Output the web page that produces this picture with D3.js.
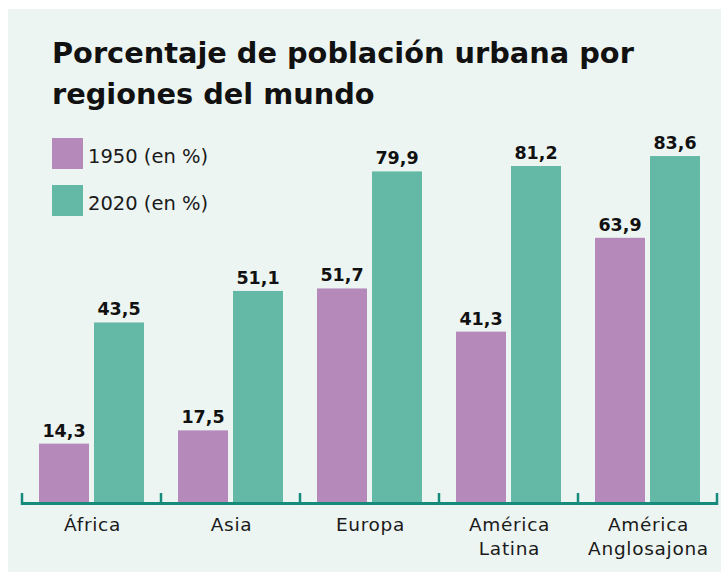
<!DOCTYPE html>
<html>
<head>
<meta charset="utf-8">
<script src="https://cdn.jsdelivr.net/npm/d3@7"></script>
<style>
  html, body { margin: 0; padding: 0; background: #ffffff; }
  svg { display: block; }
</style>
</head>
<body>
<div id="chart"></div>
<script>
// Urban population share by world region, 1950 vs 2020
const categories = [["África"], ["Asia"], ["Europa"], ["América", "Latina"], ["América", "Anglosajona"]];
const seriesNames = ["1950 (en %)", "2020 (en %)"];
const values1950 = [14.3, 17.5, 51.7, 41.3, 63.9];
const values2020 = [43.5, 51.1, 79.9, 81.2, 83.6];
const titleLines = ["Porcentaje de población urbana por", "regiones del mundo"];

const W = 721, H = 573;
const colors = ["#b689bb", "#64b8a6"];
const axisColor = "#168a7b";
const fontFamily = "'DejaVu Sans', sans-serif";

const svg = d3.select("#chart").append("svg")
  .attr("width", W).attr("height", H);

// panel background
svg.append("rect")
  .attr("x", 8).attr("y", 9).attr("width", W - 8).attr("height", 563)
  .attr("fill", "#edf5f2");

// title
svg.append("g").selectAll("text").data(titleLines).join("text")
  .attr("x", 52)
  .attr("y", (d, i) => 63 + i * 41)
  .attr("font-family", fontFamily)
  .attr("font-weight", 700)
  .attr("font-size", 28.8)
  .attr("fill", "#111")
  .text(d => d);

// scales
const keys = categories.map(c => c.join(" "));
const x0 = d3.scaleBand().domain(keys).range([22, 717]).paddingInner(0).paddingOuter(0);
const x1 = d3.scaleBand().domain(seriesNames).range([0, x0.bandwidth()])
  .paddingInner(5 / 55).paddingOuter(0.309);
const y = d3.scaleLinear().domain([0, 100]).range([503, 88]);

const rows = keys.map((k, i) => ({ key: k, vals: [values1950[i], values2020[i]] }));

// bars
const groups = svg.append("g").selectAll("g").data(rows).join("g")
  .attr("transform", d => `translate(${x0(d.key)},0)`);

groups.selectAll("rect").data(d => d.vals.map((v, j) => ({ s: seriesNames[j], v, j })))
  .join("rect")
  .attr("x", d => x1(d.s))
  .attr("y", d => y(d.v))
  .attr("width", x1.bandwidth())
  .attr("height", d => y(0) - y(d.v))
  .attr("fill", d => colors[d.j]);

// value labels
const fmt = v => d3.format(".1f")(v).replace(".", ",");
groups.selectAll("text").data(d => d.vals.map((v, j) => ({ s: seriesNames[j], v, j })))
  .join("text")
  .attr("x", d => x1(d.s) + x1.bandwidth() / 2)
  .attr("y", d => y(d.v) - 7)
  .attr("text-anchor", "middle")
  .attr("font-family", fontFamily)
  .attr("font-weight", 700)
  .attr("font-size", 17.5)
  .attr("fill", "#111")
  .text(d => fmt(d.v));

// axis baseline and boundary ticks
const axisG = svg.append("g");
axisG.append("line")
  .attr("x1", x0.range()[0]).attr("x2", x0.range()[1])
  .attr("y1", y(0) + 0.5).attr("y2", y(0) + 0.5)
  .attr("stroke", axisColor).attr("stroke-width", 3);
const edges = keys.map(k => x0(k)).concat([x0.range()[1]]);
axisG.selectAll("line.tick").data(edges).join("line")
  .attr("class", "tick")
  .attr("x1", d => d).attr("x2", d => d)
  .attr("y1", y(0) + 2).attr("y2", y(0) - 10)
  .attr("stroke", axisColor).attr("stroke-width", 2.5);

// category labels
const catG = svg.append("g").selectAll("text").data(categories).join("text")
  .attr("x", (d, i) => x0(keys[i]) + x0.bandwidth() / 2 + 1)
  .attr("y", 531)
  .attr("text-anchor", "middle")
  .attr("font-family", fontFamily)
  .attr("font-weight", 400)
  .attr("font-size", 18.5)
  .attr("letter-spacing", 0.7)
  .attr("fill", "#1a1a1a");
catG.selectAll("tspan").data(d => d).join("tspan")
  .attr("x", function () { return d3.select(this.parentNode).attr("x"); })
  .attr("dy", (d, i) => i === 0 ? 0 : 24)
  .text(d => d);

// legend
const legend = svg.append("g").selectAll("g").data(seriesNames).join("g")
  .attr("transform", (d, i) => `translate(52,${138 + i * 47})`);
legend.append("rect")
  .attr("width", 31).attr("height", 31)
  .attr("fill", (d, i) => colors[i]);
legend.append("text")
  .attr("x", 36).attr("y", 25)
  .attr("font-family", fontFamily)
  .attr("font-weight", 400)
  .attr("font-size", 19.5)
  .attr("fill", "#1a1a1a")
  .text(d => d);
</script>
</body>
</html>
